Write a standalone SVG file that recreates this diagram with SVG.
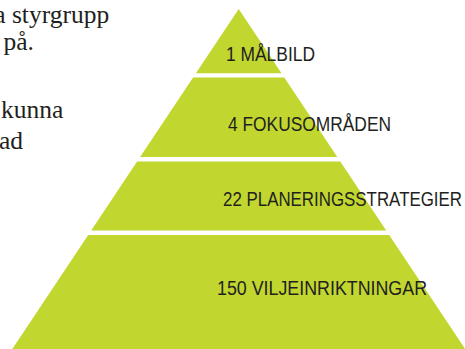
<svg xmlns="http://www.w3.org/2000/svg" width="465" height="349" viewBox="0 0 465 349">
  <style>
    .band { fill: #c1d62f; }
    .lbl { font-family: "Liberation Sans", Arial, sans-serif; font-size: 19.5px; fill: #231f20; }
    .body { font-family: "Liberation Serif", "Times New Roman", serif; font-size: 25.5px; fill: #231f20; }
  </style>
  <rect width="465" height="349" fill="#ffffff"/>
  <g id="body-text">
    <text class="body" x="-5.8" y="23">a styrgrupp</text>
    <text class="body" x="3.5" y="49.5">på.</text>
    <text class="body" x="1" y="117.5">kunna</text>
    <text class="body" x="-1" y="149">ad</text>
  </g>
  <g id="connectors"/>
  <g id="level-1">
    <polygon class="band" points="238.7,9 281.5,73.3 195.9,73.3"/>
    <text class="lbl" x="226" y="61" textLength="89" lengthAdjust="spacingAndGlyphs">1 MÅLBILD</text>
  </g>
  <g id="level-2">
    <polygon class="band" points="193.1,77.5 284.3,77.5 337.3,157 140.1,157"/>
    <text class="lbl" x="228" y="130.5" textLength="163" lengthAdjust="spacingAndGlyphs">4 FOKUSOMRÅDEN</text>
  </g>
  <g id="level-3">
    <polygon class="band" points="137.1,161.5 340.3,161.5 386.2,230.5 91.2,230.5"/>
    <text class="lbl" x="223" y="206" textLength="239" lengthAdjust="spacingAndGlyphs">22 PLANERINGSSTRATEGIER</text>
  </g>
  <g id="level-4">
    <polygon class="band" points="88.2,235 389.2,235 465.1,349 12.3,349"/>
    <text class="lbl" x="217" y="294.5" textLength="210" lengthAdjust="spacingAndGlyphs">150 VILJEINRIKTNINGAR</text>
  </g>
</svg>
